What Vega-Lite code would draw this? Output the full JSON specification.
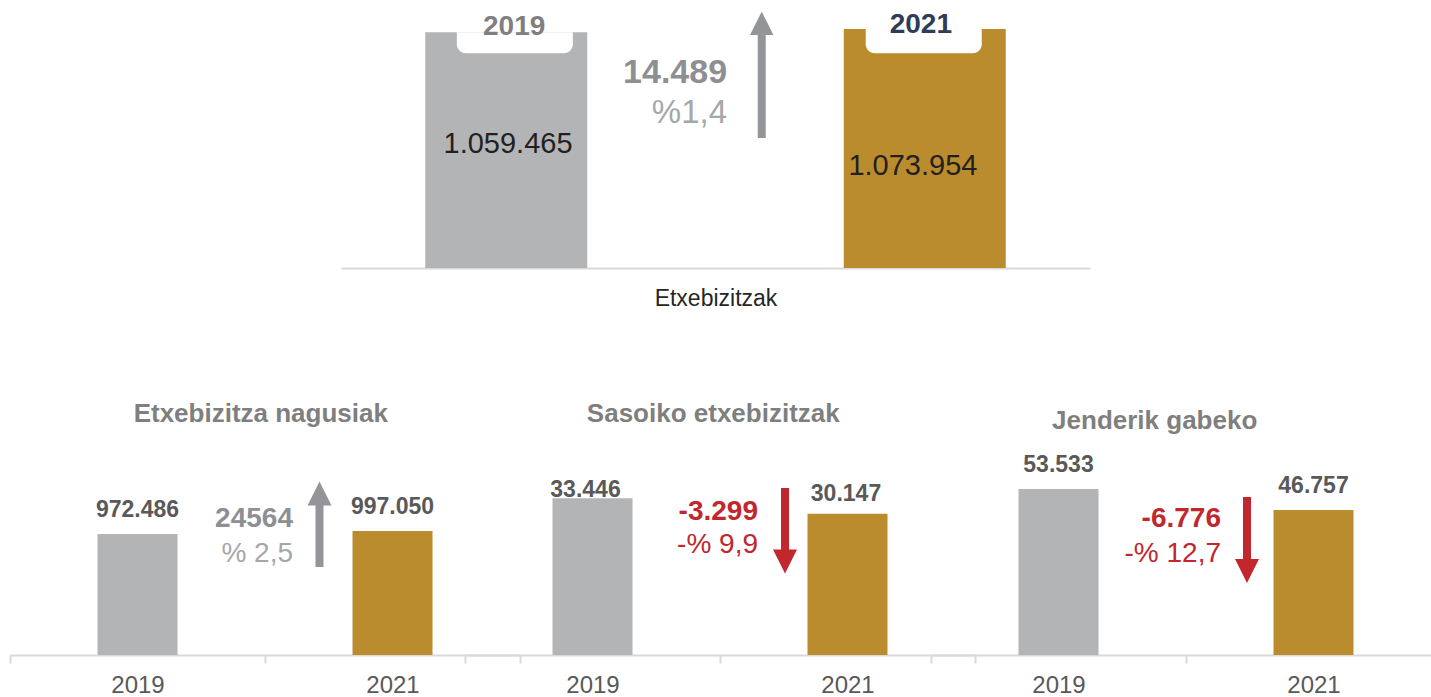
{
  "$schema": "https://vega.github.io/schema/vega-lite/v6.json",
  "padding": 0,
  "background": "white",
  "bounds": "flush",
  "spacing": 162,
  "config": {"view": {"stroke": null}, "font": "Liberation Sans"},
  "vconcat": [
    {
      "width": 1431,
      "height": 268,
      "data": {"values": [
        {"year": "2019", "value": 1059465, "label": "1.059.465"},
        {"year": "2021", "value": 1073954, "label": "1.073.954"}
      ]},
      "encoding": {
        "x": {"field": "year", "type": "nominal",
          "scale": {"domain": ["2019", "2021"], "range": [341, 1090], "paddingInner": 0.6129, "paddingOuter": 0.2013},
          "axis": {"title": "Etxebizitzak", "labels": false, "ticks": false, "domainColor": "#d9d9d9", "domainWidth": 2,
            "titleFontSize": 23, "titleFontWeight": "normal", "titleColor": "#262626", "titlePadding": 19}}
      },
      "layer": [
        {"mark": {"type": "bar"},
         "encoding": {
           "y": {"field": "value", "type": "quantitative", "scale": {"domain": [0, 1204500], "nice": false}, "axis": null},
           "color": {"field": "year", "type": "nominal", "scale": {"domain": ["2019", "2021"], "range": ["#b3b4b6", "#ba8c2e"]}, "legend": null}
         }},
        {"transform": [{"filter": "datum.year === '2019'"}],
         "mark": {"type": "bar", "color": "white", "width": 116, "xOffset": 8.6, "cornerRadiusBottomLeft": 9, "cornerRadiusBottomRight": 9},
         "encoding": {"y": {"field": "value", "type": "quantitative"}, "y2": {"datum": 964948}}},
        {"transform": [{"filter": "datum.year === '2021'"}],
         "mark": {"type": "bar", "color": "white", "width": 116, "xOffset": -1, "cornerRadiusBottomLeft": 9, "cornerRadiusBottomRight": 9},
         "encoding": {"y": {"field": "value", "type": "quantitative"}, "y2": {"datum": 964948}}},
        {"transform": [{"filter": "datum.year === '2019'"}],
         "mark": {"type": "text", "fontSize": 28, "fontWeight": "bold", "color": "#7f7f7f", "baseline": "alphabetic", "align": "center"},
         "encoding": {"x": {"field": "year", "type": "nominal", "bandPosition": 0.549}, "y": {"datum": 1047195}, "text": {"field": "year"}}},
        {"transform": [{"filter": "datum.year === '2021'"}],
         "mark": {"type": "text", "fontSize": 28, "fontWeight": "bold", "color": "#2e3d57", "baseline": "alphabetic", "align": "center"},
         "encoding": {"x": {"field": "year", "type": "nominal", "bandPosition": 0.476}, "y": {"datum": 1054836}, "text": {"field": "year"}}},
        {"transform": [{"filter": "datum.year === '2019'"}],
         "mark": {"type": "text", "fontSize": 29, "color": "#231f20", "baseline": "alphabetic", "align": "center"},
         "encoding": {"x": {"field": "year", "type": "nominal", "bandPosition": 0.511}, "y": {"datum": 515508}, "text": {"field": "label"}}},
        {"transform": [{"filter": "datum.year === '2021'"}],
         "mark": {"type": "text", "fontSize": 29, "color": "#231f20", "baseline": "alphabetic", "align": "center"},
         "encoding": {"x": {"field": "year", "type": "nominal", "bandPosition": 0.427}, "y": {"datum": 417979}, "text": {"field": "label"}}},
        {"data": {"values": [{"change": "14.489", "pct": "%1,4"}]},
         "mark": {"type": "text", "fontSize": 34, "fontWeight": "bold", "color": "#8e8f92", "baseline": "alphabetic", "align": "right"},
         "encoding": {"x": {"datum": "2019", "type": "nominal", "bandPosition": 1.863}, "y": {"datum": 831464}, "text": {"field": "change"}}},
        {"data": {"values": [{"change": "14.489", "pct": "%1,4"}]},
         "mark": {"type": "text", "fontSize": 33, "color": "#a6a7a9", "baseline": "alphabetic", "align": "right"},
         "encoding": {"x": {"datum": "2019", "type": "nominal", "bandPosition": 1.863}, "y": {"datum": 650340}, "text": {"field": "pct"}}},
        {"data": {"values": [{"dir": "up"}]},
         "mark": {"type": "rule", "color": "#939598", "strokeWidth": 8, "strokeCap": "butt"},
         "encoding": {"x": {"datum": "2019", "type": "nominal", "bandPosition": 2.077}, "y": {"datum": 584272}, "y2": {"datum": 1060000}}},
        {"data": {"values": [{"dir": "up"}]},
         "mark": {"type": "point", "shape": "M0,-1L1,1L-1,1Z", "size": 552, "filled": true, "color": "#939598", "opacity": 1},
         "encoding": {"x": {"datum": "2019", "type": "nominal", "bandPosition": 2.077}, "y": {"datum": 1099545}}}
      ]
    },
    {
      "hconcat": [
        {
          "width": 465,
          "height": 225,
          "title": {"text": "Etxebizitza nagusiak", "fontSize": 26, "fontWeight": "bold", "color": "#7f7f7f", "anchor": "middle", "dx": 28.3, "offset": 3, "frame": "group"},
          "data": {"values": [
            {"year": "2019", "value": 972486, "label": "972.486"},
            {"year": "2021", "value": 997050, "label": "997.050"}
          ]},
          "encoding": {
            "x": {"field": "year", "type": "nominal",
              "scale": {"domain": ["2019", "2021"], "range": [10, 520], "paddingInner": 0, "paddingOuter": 0},
              "axis": {"title": null, "tickBand": "extent", "domainColor": "#d9d9d9", "domainWidth": 2, "tickColor": "#d9d9d9", "tickWidth": 2, "tickSize": 8,
                "labelFontSize": 24, "labelColor": "#595959", "labelPadding": 10, "labelAngle": 0}}
          },
          "layer": [
            {"mark": {"type": "bar", "width": 80},
             "encoding": {
               "y": {"field": "value", "type": "quantitative", "scale": {"domain": [0, 1809000], "nice": false}, "axis": null},
               "color": {"field": "year", "type": "nominal", "scale": {"domain": ["2019", "2021"], "range": ["#b3b4b6", "#ba8c2e"]}, "legend": null}
             }},
            {"mark": {"type": "text", "fontSize": 23, "fontWeight": "bold", "color": "#595959", "baseline": "alphabetic", "dy": -17},
             "encoding": {"y": {"field": "value", "type": "quantitative"}, "text": {"field": "label"}}},
            {"data": {"values": [{"change": "24564", "pct": "% 2,5"}]},
             "mark": {"type": "text", "fontSize": 28, "fontWeight": "bold", "color": "#8e8f92", "baseline": "alphabetic", "align": "right"},
             "encoding": {"x": {"datum": "2019", "type": "nominal", "bandPosition": 1.1098}, "y": {"datum": 1026708}, "text": {"field": "change"}}},
            {"data": {"values": [{"change": "24564", "pct": "% 2,5"}]},
             "mark": {"type": "text", "fontSize": 28, "color": "#a6a7a9", "baseline": "alphabetic", "align": "right"},
             "encoding": {"x": {"datum": "2019", "type": "nominal", "bandPosition": 1.1098}, "y": {"datum": 750132}, "text": {"field": "pct"}}},
            {"data": {"values": [{"dir": "up"}]},
             "mark": {"type": "rule", "color": "#939598", "strokeWidth": 8, "strokeCap": "butt"},
             "encoding": {"x": {"datum": "2019", "type": "nominal", "bandPosition": 1.2137}, "y": {"datum": 707520}, "y2": {"datum": 1230000}}},
            {"data": {"values": [{"dir": "up"}]},
             "mark": {"type": "point", "shape": "M0,-1L1,1L-1,1Z", "size": 576, "filled": true, "color": "#939598", "opacity": 1},
             "encoding": {"x": {"datum": "2019", "type": "nominal", "bandPosition": 1.2137}, "y": {"datum": 1298460}}}
          ]
        },
        {
          "width": 466,
          "height": 225,
          "title": {"text": "Sasoiko etxebizitzak", "fontSize": 26, "fontWeight": "bold", "color": "#7f7f7f", "anchor": "middle", "dx": 15.3, "offset": 3, "frame": "group"},
          "data": {"values": [
            {"year": "2019", "value": 33446, "label": "33.446"},
            {"year": "2021", "value": 30147, "label": "30.147"}
          ]},
          "encoding": {
            "x": {"field": "year", "type": "nominal",
              "scale": {"domain": ["2019", "2021"], "range": [0, 510], "paddingInner": 0, "paddingOuter": 0},
              "axis": {"title": null, "tickBand": "extent", "domainColor": "#d9d9d9", "domainWidth": 2, "tickColor": "#d9d9d9", "tickWidth": 2, "tickSize": 8,
                "labelFontSize": 24, "labelColor": "#595959", "labelPadding": 10, "labelAngle": 0}}
          },
          "layer": [
            {"mark": {"type": "bar", "width": 80},
             "encoding": {
               "y": {"field": "value", "type": "quantitative", "scale": {"domain": [0, 48000], "nice": false}, "axis": null},
               "color": {"field": "year", "type": "nominal", "scale": {"domain": ["2019", "2021"], "range": ["#b3b4b6", "#ba8c2e"]}, "legend": null}
             }},
            {"transform": [{"filter": "datum.year === '2019'"}],
             "mark": {"type": "text", "fontSize": 23, "fontWeight": "bold", "color": "#595959", "baseline": "alphabetic", "dy": -1, "dx": -7},
             "encoding": {"y": {"field": "value", "type": "quantitative"}, "text": {"field": "label"}}},
            {"transform": [{"filter": "datum.year === '2021'"}],
             "mark": {"type": "text", "fontSize": 23, "fontWeight": "bold", "color": "#595959", "baseline": "alphabetic", "dy": -12.6, "dx": -1.5},
             "encoding": {"y": {"field": "value", "type": "quantitative"}, "text": {"field": "label"}}},
            {"data": {"values": [{"change": "-3.299", "pct": "-% 9,9"}]},
             "mark": {"type": "text", "fontSize": 28, "fontWeight": "bold", "color": "#c1272d", "baseline": "alphabetic", "align": "right"},
             "encoding": {"x": {"datum": "2019", "type": "nominal", "bandPosition": 1.149}, "y": {"datum": 28800}, "text": {"field": "change"}}},
            {"data": {"values": [{"change": "-3.299", "pct": "-% 9,9"}]},
             "mark": {"type": "text", "fontSize": 28, "color": "#c1272d", "baseline": "alphabetic", "align": "right"},
             "encoding": {"x": {"datum": "2019", "type": "nominal", "bandPosition": 1.149}, "y": {"datum": 21696}, "text": {"field": "pct"}}},
            {"data": {"values": [{"dir": "down"}]},
             "mark": {"type": "rule", "color": "#c1272d", "strokeWidth": 8, "strokeCap": "butt"},
             "encoding": {"x": {"datum": "2019", "type": "nominal", "bandPosition": 1.2549}, "y": {"datum": 35626}, "y2": {"datum": 21000}}},
            {"data": {"values": [{"dir": "down"}]},
             "mark": {"type": "point", "shape": "M0,1L1,-1L-1,-1Z", "size": 576, "filled": true, "color": "#c1272d", "opacity": 1},
             "encoding": {"x": {"datum": "2019", "type": "nominal", "bandPosition": 1.2549}, "y": {"datum": 19946}}}
          ]
        },
        {
          "width": 500,
          "height": 225,
          "title": {"text": "Jenderik gabeko", "fontSize": 26, "fontWeight": "bold", "color": "#7f7f7f", "anchor": "middle", "dx": -26.3, "offset": -4, "frame": "group"},
          "data": {"values": [
            {"year": "2019", "value": 53533, "label": "53.533"},
            {"year": "2021", "value": 46757, "label": "46.757"}
          ]},
          "encoding": {
            "x": {"field": "year", "type": "nominal",
              "scale": {"domain": ["2019", "2021"], "range": [0, 510], "paddingInner": 0, "paddingOuter": 0},
              "axis": {"title": null, "tickBand": "extent", "domainColor": "#d9d9d9", "domainWidth": 2, "tickColor": "#d9d9d9", "tickWidth": 2, "tickSize": 8,
                "labelFontSize": 24, "labelColor": "#595959", "labelPadding": 10, "labelAngle": 0}}
          },
          "layer": [
            {"mark": {"type": "bar", "width": 80},
             "encoding": {
               "y": {"field": "value", "type": "quantitative", "scale": {"domain": [0, 72556], "nice": false}, "axis": null},
               "color": {"field": "year", "type": "nominal", "scale": {"domain": ["2019", "2021"], "range": ["#b3b4b6", "#ba8c2e"]}, "legend": null}
             }},
            {"mark": {"type": "text", "fontSize": 23, "fontWeight": "bold", "color": "#595959", "baseline": "alphabetic", "dy": -17},
             "encoding": {"y": {"field": "value", "type": "quantitative"}, "text": {"field": "label"}}},
            {"data": {"values": [{"change": "-6.776", "pct": "-% 12,7"}]},
             "mark": {"type": "text", "fontSize": 28, "fontWeight": "bold", "color": "#c1272d", "baseline": "alphabetic", "align": "right"},
             "encoding": {"x": {"datum": "2019", "type": "nominal", "bandPosition": 1.1373}, "y": {"datum": 41180}, "text": {"field": "change"}}},
            {"data": {"values": [{"change": "-6.776", "pct": "-% 12,7"}]},
             "mark": {"type": "text", "fontSize": 28, "color": "#c1272d", "baseline": "alphabetic", "align": "right"},
             "encoding": {"x": {"datum": "2019", "type": "nominal", "bandPosition": 1.1373}, "y": {"datum": 30086}, "text": {"field": "pct"}}},
            {"data": {"values": [{"dir": "down"}]},
             "mark": {"type": "rule", "color": "#c1272d", "strokeWidth": 8, "strokeCap": "butt"},
             "encoding": {"x": {"datum": "2019", "type": "nominal", "bandPosition": 1.2392}, "y": {"datum": 50950}, "y2": {"datum": 30000}}},
            {"data": {"values": [{"dir": "down"}]},
             "mark": {"type": "point", "shape": "M0,1L1,-1L-1,-1Z", "size": 576, "filled": true, "color": "#c1272d", "opacity": 1},
             "encoding": {"x": {"datum": "2019", "type": "nominal", "bandPosition": 1.2392}, "y": {"datum": 27087}}}
          ]
        }
      ],
      "spacing": 0,
      "bounds": "flush"
    }
  ]
}
